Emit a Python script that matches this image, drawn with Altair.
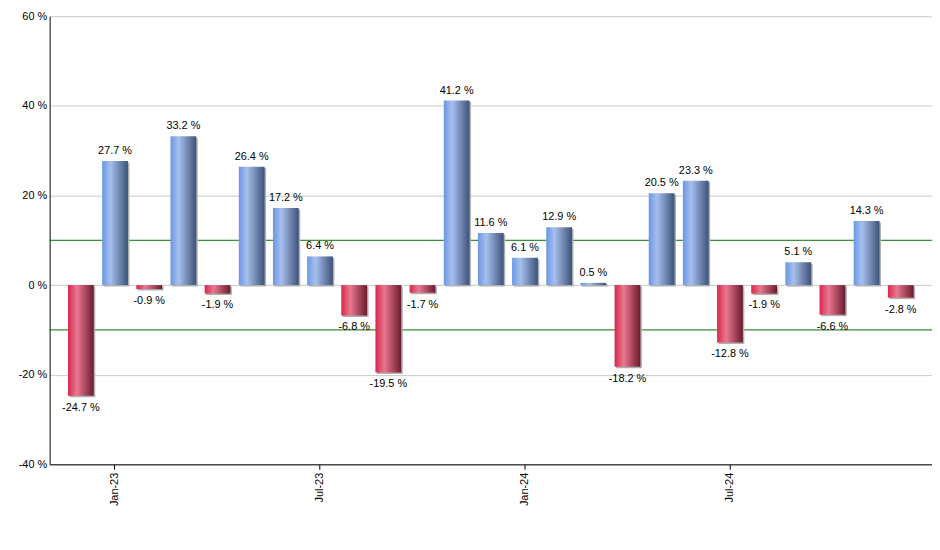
import altair as alt
import pandas as pd

months = ["Dec-22", "Jan-23", "Feb-23", "Mar-23", "Apr-23", "May-23", "Jun-23",
          "Jul-23", "Aug-23", "Sep-23", "Oct-23", "Nov-23", "Dec-23", "Jan-24",
          "Feb-24", "Mar-24", "Apr-24", "May-24", "Jun-24", "Jul-24", "Aug-24",
          "Sep-24", "Oct-24", "Nov-24", "Dec-24"]
values = [-24.7, 27.7, -0.9, 33.2, -1.9, 26.4, 17.2, 6.4, -6.8, -19.5, -1.7,
          41.2, 11.6, 6.1, 12.9, 0.5, -18.2, 20.5, 23.3, -12.8, -1.9, 5.1,
          -6.6, 14.3, -2.8]
tick_labels = ["Jan-23", "Jul-23", "Jan-24", "Jul-24"]
y_ticks = [-40, -20, 0, 20, 40, 60]
ref_lines = [10, -10]

df = pd.DataFrame({"month": months, "v": values})
df["label"] = [f"{v:.1f} %" for v in values]

FONT = "Liberation Sans"

xscale = alt.Scale(paddingInner=0.245, paddingOuter=0.537)
x = alt.X("month:N", sort=months, scale=xscale, title=None,
          axis=alt.Axis(values=tick_labels, labelAngle=-90, domainColor="black",
                        tickColor="black", tickSize=5, labelPadding=3,
                        labelFont=FONT, labelFontSize=11, labelColor="black",
                        grid=False))
y = alt.Y("v:Q", scale=alt.Scale(domain=[-40, 60], nice=False, zero=True), title=None,
          axis=alt.Axis(values=y_ticks, labelExpr="datum.value + ' %'", ticks=False,
                        domainColor="black", gridColor="#c8c8c8", labelPadding=3,
                        labelFont=FONT, labelFontSize=11, labelColor="black"))

base = alt.Chart(df)

rules = alt.Chart(pd.DataFrame({"r": ref_lines})).mark_rule(
    color="#007000", strokeWidth=1).encode(y=alt.Y("r:Q"))

shadow = base.mark_bar(color="#b0b0b0", xOffset=1.5, yOffset=1.5).encode(x=x, y=y)

blue = alt.LinearGradient(gradient="linear", x1=0, x2=1, y1=0, y2=0, stops=[
    alt.GradientStop(offset=0, color="#6c96e4"),
    alt.GradientStop(offset=0.32, color="#a6c0ee"),
    alt.GradientStop(offset=1, color="#3d5278")])
red = alt.LinearGradient(gradient="linear", x1=0, x2=1, y1=0, y2=0, stops=[
    alt.GradientStop(offset=0, color="#d8284c"),
    alt.GradientStop(offset=0.35, color="#e8788f"),
    alt.GradientStop(offset=1, color="#6c1a2e")])

pos = base.transform_filter("datum.v >= 0").mark_bar(color=blue).encode(x=x, y=y)
neg = base.transform_filter("datum.v < 0").mark_bar(color=red).encode(x=x, y=y)

tpos = base.transform_filter("datum.v >= 0").mark_text(
    baseline="bottom", dy=-5, font=FONT, fontSize=11, color="black").encode(
    x=x, y=y, text="label:N")
tneg = base.transform_filter("datum.v < 0").mark_text(
    baseline="top", dy=6, font=FONT, fontSize=11, color="black").encode(
    x=x, y=y, text="label:N")

chart = alt.layer(rules, shadow, pos, neg, tpos, tneg).properties(
    width=890, height=452,
    autosize=alt.AutoSizeParams(type="none"),
    padding={"left": 42, "top": 6, "right": 0, "bottom": 72},
).configure_view(stroke=None).configure_axis(domainWidth=1)

chart.save("out.html", embed_options={"renderer": "svg", "actions": False})
